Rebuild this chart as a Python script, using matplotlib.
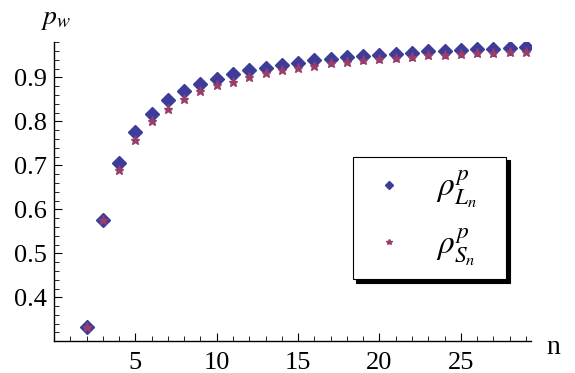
import matplotlib.pyplot as plt
from matplotlib.ticker import MultipleLocator

plt.rcParams['font.family'] = ['Liberation Serif', 'DejaVu Serif']
plt.rcParams['mathtext.fontset'] = 'stix'

n = list(range(2, 30))
rho_L = [0.333, 0.575, 0.706, 0.775, 0.817, 0.848, 0.868, 0.886, 0.897, 0.907,
         0.916, 0.922, 0.929, 0.933, 0.939, 0.942, 0.946, 0.949, 0.952, 0.954,
         0.956, 0.959, 0.960, 0.963, 0.964, 0.965, 0.967, 0.969]
rho_S = [0.333, 0.575, 0.690, 0.757, 0.801, 0.829, 0.852, 0.868, 0.882, 0.889,
         0.902, 0.910, 0.916, 0.922, 0.927, 0.933, 0.936, 0.939, 0.942, 0.945,
         0.947, 0.950, 0.951, 0.953, 0.955, 0.956, 0.957, 0.958]
labels = [r'$\rho^{p}_{L_n}$', r'$\rho^{p}_{S_n}$']

fig = plt.figure(figsize=(5.75, 3.73), dpi=100)
ax = fig.add_axes([0.094, 0.085, 0.829, 0.803])

ax.plot(n, rho_L, 'D', color='#3d3d99', markersize=6.8, linestyle='none', label=labels[0])
ax.plot(n, rho_S, '*', color='#993d6b', markersize=6.5, linestyle='none', label=labels[1])

ax.set_xlim(0, 29.3)
ax.set_ylim(0.3, 0.981)
for s in ['top', 'right']:
    ax.spines[s].set_visible(False)
ax.spines['left'].set_linewidth(1.0)
ax.spines['bottom'].set_linewidth(1.0)

ax.xaxis.set_minor_locator(MultipleLocator(1))
ax.set_xticks([5, 10, 15, 20, 25])
ax.yaxis.set_minor_locator(MultipleLocator(0.02))
ax.set_yticks([0.4, 0.5, 0.6, 0.7, 0.8, 0.9])
ax.set_yticklabels(['0.4', '0.5', '0.6', '0.7', '0.8', '0.9'])
ax.tick_params(which='major', direction='in', length=6, width=0.8, labelsize=19, pad=5)
ax.tick_params(which='minor', direction='in', length=3.5, width=0.6)
ax.tick_params(axis='x', which='major', pad=8)

fig.text(0.07, 0.935, r'$p_w$', fontsize=20)
fig.text(0.95, 0.05, 'n', fontsize=20)

leg = ax.legend(loc='lower left', bbox_to_anchor=(0.627, 0.207, 0.322, 0.409),
                mode='expand', borderaxespad=0, fontsize=24, frameon=True,
                fancybox=False, edgecolor='black', borderpad=0.33, labelspacing=0.45,
                handlelength=1.5, handletextpad=0.65, markerscale=0.65,
                shadow={'color': 'black', 'alpha': 1, 'ox': 2.5, 'oy': -2.5})
leg.get_frame().set_linewidth(0.8)

fig.savefig('out.png', dpi=100)
